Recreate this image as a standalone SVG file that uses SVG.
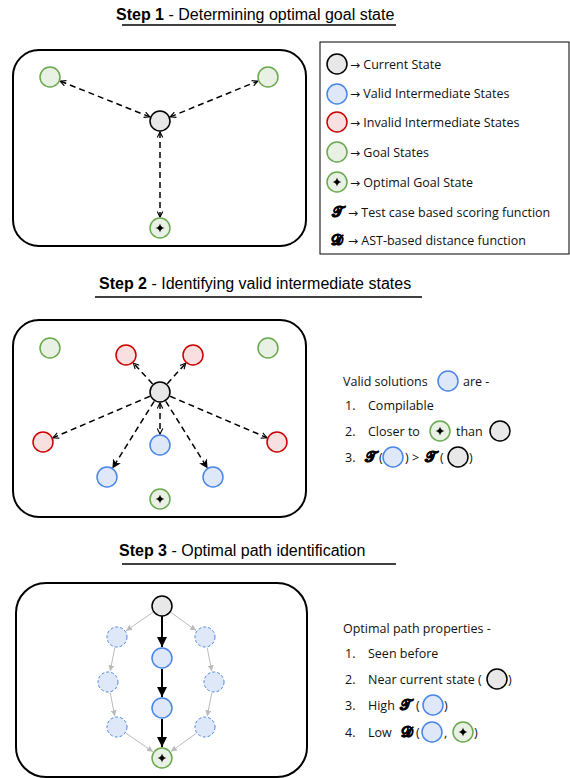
<svg xmlns="http://www.w3.org/2000/svg" width="570" height="778" viewBox="0 0 570 778">
<style>
.title{font-family:"Liberation Sans",Arial,sans-serif;font-size:16px;fill:#000}
.b{font-weight:bold}
.t{font-family:"Open Sans","Noto Sans",sans-serif;font-size:12.5px;fill:#111}
.ar{font-family:"DejaVu Sans",sans-serif;font-size:12px}
.m{font-family:"DejaVu Serif","DejaVu Sans",serif;font-size:15px;font-weight:bold;fill:#000;stroke:#000;stroke-width:0.4}
.box{fill:none;stroke:#000;stroke-width:2}
.cur{fill:#e8e8e8;stroke:#000;stroke-width:1.5}
.val{fill:#dfe8f8;stroke:#4a86e8;stroke-width:1.5}
.valdash{fill:#dfe8f8;stroke:#4a86e8;stroke-width:1;stroke-dasharray:3 2}
.inv{fill:#f8e0e0;stroke:#cc0000;stroke-width:1.5}
.goal{fill:#e8f1e3;stroke:#6aa84f;stroke-width:1.5}
.dash{fill:none;stroke:#000;stroke-width:1.5;stroke-dasharray:6 4}
.solid{fill:none;stroke:#000;stroke-width:2}
.grey{fill:none;stroke:#bbb;stroke-width:1}
</style>
<defs>
<marker id="oa" viewBox="0 0 10 10" refX="9" refY="5" markerWidth="7" markerHeight="7" markerUnits="userSpaceOnUse" orient="auto-start-reverse">
<path d="M1,1 L9,5 L1,9" fill="none" stroke="#000" stroke-width="1.6"/>
</marker>
<marker id="fa" viewBox="0 0 10 10" refX="9" refY="5" markerWidth="9" markerHeight="9" markerUnits="userSpaceOnUse" orient="auto">
<path d="M0,0 L10,5 L0,10 L3,5 z" fill="#000"/>
</marker>
<marker id="ba" viewBox="0 0 10 10" refX="10" refY="5" markerWidth="10" markerHeight="10" markerUnits="userSpaceOnUse" orient="auto">
<path d="M0,0 L10,5 L0,10 z" fill="#000"/>
</marker>
<marker id="ga" viewBox="0 0 10 10" refX="10" refY="5" markerWidth="6" markerHeight="6" markerUnits="userSpaceOnUse" orient="auto">
<path d="M0,0 L10,5 L0,10 z" fill="#bbb"/>
</marker>
<symbol id="star" viewBox="-5 -5 10 10" overflow="visible">
<path d="M0,-4.5 Q0.7,-0.7 4.5,0 Q0.7,0.7 0,4.5 Q-0.7,0.7 -4.5,0 Q-0.7,-0.7 0,-4.5 z" fill="#000"/>
</symbol>
</defs>

<!-- Titles -->
<g id="title1">
<text class="title" x="116" y="20"><tspan class="b">Step 1</tspan> - Determining optimal goal state</text>
<line x1="122" y1="25" x2="396" y2="25" stroke="#000" stroke-width="1.5"/>
</g>
<g id="title2">
<text class="title" x="99" y="289"><tspan class="b">Step 2</tspan> - Identifying valid intermediate states</text>
<line x1="95" y1="297" x2="422" y2="297" stroke="#000" stroke-width="1.5"/>
</g>
<g id="title3">
<text class="title" x="119" y="556"><tspan class="b">Step 3</tspan> - Optimal path identification</text>
<line x1="122" y1="564" x2="396" y2="564" stroke="#000" stroke-width="1.5"/>
</g>

<!-- Step 1 -->
<rect id="box1" class="box" x="13" y="50" width="293" height="196" rx="26"/>
<g id="s1-connectors">
<line class="dash" x1="149.8" y1="116.9" x2="60.2" y2="81.1" marker-start="url(#oa)" marker-end="url(#oa)"/>
<line class="dash" x1="170.2" y1="116.9" x2="257.8" y2="81.1" marker-start="url(#oa)" marker-end="url(#oa)"/>
<line class="dash" x1="160" y1="132" x2="160" y2="217" marker-start="url(#oa)" marker-end="url(#oa)"/>
</g>
<g id="s1-goal-left"><circle class="goal" cx="50" cy="77" r="10"/></g>
<g id="s1-goal-right"><circle class="goal" cx="268" cy="77" r="10"/></g>
<g id="s1-current"><circle class="cur" cx="160" cy="121" r="10"/></g>
<g id="s1-optimal"><circle class="goal" cx="160" cy="228" r="10"/><use href="#star" x="155" y="223" width="10" height="10"/></g>

<!-- Legend -->
<g id="legend">
<rect x="320" y="42" width="249" height="212" fill="#fff" stroke="#000" stroke-width="1"/>
<circle class="cur" cx="337" cy="64" r="10"/>
<text class="t" x="350" y="68.5"><tspan class="ar">→</tspan> Current State</text>
<circle class="val" cx="337" cy="94" r="10"/>
<text class="t" x="350" y="97.5"><tspan class="ar">→</tspan> Valid Intermediate States</text>
<circle class="inv" cx="337" cy="122" r="10"/>
<text class="t" x="350" y="126.5"><tspan class="ar">→</tspan> Invalid Intermediate States</text>
<circle class="goal" cx="337" cy="152" r="10"/>
<text class="t" x="350" y="156.5"><tspan class="ar">→</tspan> Goal States</text>
<circle class="goal" cx="337" cy="182" r="10"/><use href="#star" x="332" y="177" width="10" height="10"/>
<text class="t" x="350" y="186.5"><tspan class="ar">→</tspan> Optimal Goal State</text>
<text class="m" x="337" y="217" text-anchor="middle">𝓣</text>
<text class="t" x="348" y="216.5"><tspan class="ar">→</tspan> Test case based scoring function</text>
<text class="m" x="337" y="245" text-anchor="middle">𝓓</text>
<text class="t" x="348" y="244.5"><tspan class="ar">→</tspan> AST-based distance function</text>
</g>

<!-- Step 2 -->
<rect id="box2" class="box" x="13" y="320" width="293" height="197" rx="26"/>
<g id="s2-connectors">
<line class="dash" x1="152.6" y1="383.9" x2="133.4" y2="363.1" marker-end="url(#oa)"/>
<line class="dash" x1="167.3" y1="383.8" x2="185.7" y2="363.2" marker-end="url(#oa)"/>
<line class="dash" x1="149.9" y1="396.3" x2="53.1" y2="437.7" marker-end="url(#oa)"/>
<line class="dash" x1="170.1" y1="396.3" x2="266.9" y2="437.7" marker-end="url(#oa)"/>
<line class="dash" x1="160" y1="403" x2="160" y2="434" marker-start="url(#oa)" marker-end="url(#oa)"/>
<line class="dash" x1="154.2" y1="401.3" x2="112.8" y2="467.7" marker-end="url(#fa)"/>
<line class="dash" x1="165.8" y1="401.3" x2="207.2" y2="467.7" marker-end="url(#fa)"/>
</g>
<g id="s2-goal-left"><circle class="goal" cx="50" cy="348" r="10"/></g>
<g id="s2-goal-right"><circle class="goal" cx="268" cy="348" r="10"/></g>
<g id="s2-inv-1"><circle class="inv" cx="126" cy="355" r="10"/></g>
<g id="s2-inv-2"><circle class="inv" cx="193" cy="355" r="10"/></g>
<g id="s2-inv-3"><circle class="inv" cx="43" cy="442" r="10"/></g>
<g id="s2-inv-4"><circle class="inv" cx="277" cy="442" r="10"/></g>
<g id="s2-current"><circle class="cur" cx="160" cy="392" r="10"/></g>
<g id="s2-val-1"><circle class="val" cx="160" cy="445" r="10"/></g>
<g id="s2-val-2"><circle class="val" cx="107" cy="477" r="10"/></g>
<g id="s2-val-3"><circle class="val" cx="213" cy="477" r="10"/></g>
<g id="s2-optimal"><circle class="goal" cx="160" cy="499" r="10"/><use href="#star" x="155" y="494" width="10" height="10"/></g>

<g id="s2-text">
<text class="t" x="343" y="385.5">Valid solutions</text>
<circle class="val" cx="448" cy="381" r="10"/>
<text class="t" x="463" y="385.5">are -</text>
<text class="t" x="345" y="409.5">1.</text>
<text class="t" x="368" y="409.5">Compilable</text>
<text class="t" x="345" y="435.5">2.</text>
<text class="t" x="368" y="435.5">Closer to</text>
<circle class="goal" cx="440" cy="431" r="10"/><use href="#star" x="435" y="426" width="10" height="10"/>
<text class="t" x="456" y="435.5">than</text>
<circle class="cur" cx="500" cy="431" r="10"/>
<text class="t" x="345" y="461.5">3.</text>
<text class="m" x="365" y="462">𝓣</text>
<text class="t" x="379" y="461.5">(</text>
<circle class="val" cx="393" cy="457" r="10"/>
<text class="t" x="405" y="461.5">) &gt;</text>
<text class="m" x="425" y="462">𝓣</text>
<text class="t" x="440" y="461.5">(</text>
<circle class="cur" cx="458" cy="457" r="10"/>
<text class="t" x="469" y="461.5">)</text>
</g>

<!-- Step 3 -->
<rect id="box3" class="box" x="16" y="583" width="291" height="194" rx="30"/>
<g id="s3-connectors">
<line class="solid" x1="162" y1="616" x2="162" y2="647" marker-end="url(#ba)"/>
<line class="solid" x1="162" y1="669" x2="162" y2="697" marker-end="url(#ba)"/>
<line class="solid" x1="162" y1="719" x2="162" y2="747" marker-end="url(#ba)"/>
<line class="grey" x1="153.8" y1="611.7" x2="126" y2="630.8" marker-end="url(#ga)"/>
<line class="grey" x1="114.8" y1="647.8" x2="110.2" y2="671.2" marker-end="url(#ga)"/>
<line class="grey" x1="110.2" y1="692.8" x2="114.8" y2="716.2" marker-end="url(#ga)"/>
<line class="grey" x1="126" y1="733.2" x2="153" y2="751.8" marker-end="url(#ga)"/>
<line class="grey" x1="170.9" y1="612.4" x2="196.1" y2="630.6" marker-end="url(#ga)"/>
<line class="grey" x1="207.2" y1="647.8" x2="211.8" y2="671.2" marker-end="url(#ga)"/>
<line class="grey" x1="211.8" y1="692.8" x2="207.2" y2="716.2" marker-end="url(#ga)"/>
<line class="grey" x1="196.1" y1="733.4" x2="170.9" y2="751.6" marker-end="url(#ga)"/>
</g>
<g id="s3-current"><circle class="cur" cx="162" cy="606" r="10"/></g>
<g id="s3-val-1"><circle class="val" cx="162" cy="658" r="10"/></g>
<g id="s3-val-2"><circle class="val" cx="162" cy="708" r="10"/></g>
<g id="s3-optimal"><circle class="goal" cx="162" cy="758" r="10"/><use href="#star" x="157" y="753" width="10" height="10"/></g>
<g id="s3-l1"><circle class="valdash" cx="117" cy="637" r="10"/></g>
<g id="s3-l2"><circle class="valdash" cx="108" cy="682" r="10"/></g>
<g id="s3-l3"><circle class="valdash" cx="117" cy="727" r="10"/></g>
<g id="s3-r1"><circle class="valdash" cx="205" cy="637" r="10"/></g>
<g id="s3-r2"><circle class="valdash" cx="214" cy="682" r="10"/></g>
<g id="s3-r3"><circle class="valdash" cx="205" cy="727" r="10"/></g>

<g id="s3-text">
<text class="t" x="343" y="632.5">Optimal path properties -</text>
<text class="t" x="345" y="657.5">1.</text>
<text class="t" x="368" y="657.5">Seen before</text>
<text class="t" x="345" y="683.5">2.</text>
<text class="t" x="368" y="683.5">Near current state (</text>
<circle class="cur" cx="497" cy="679" r="10"/>
<text class="t" x="508" y="683.5">)</text>
<text class="t" x="345" y="709.5">3.</text>
<text class="t" x="368" y="709.5">High</text>
<text class="m" x="400" y="710">𝓣</text>
<text class="t" x="416" y="709.5">(</text>
<circle class="val" cx="433" cy="705" r="10"/>
<text class="t" x="444" y="709.5">)</text>
<text class="t" x="345" y="736.5">4.</text>
<text class="t" x="368" y="736.5">Low</text>
<text class="m" x="401" y="737">𝓓</text>
<text class="t" x="416" y="736.5">(</text>
<circle class="val" cx="432" cy="732" r="10"/>
<text class="t" x="444" y="736.5">,</text>
<circle class="goal" cx="463" cy="732" r="10"/><use href="#star" x="458" y="727" width="10" height="10"/>
<text class="t" x="474" y="736.5">)</text>
</g>
</svg>
